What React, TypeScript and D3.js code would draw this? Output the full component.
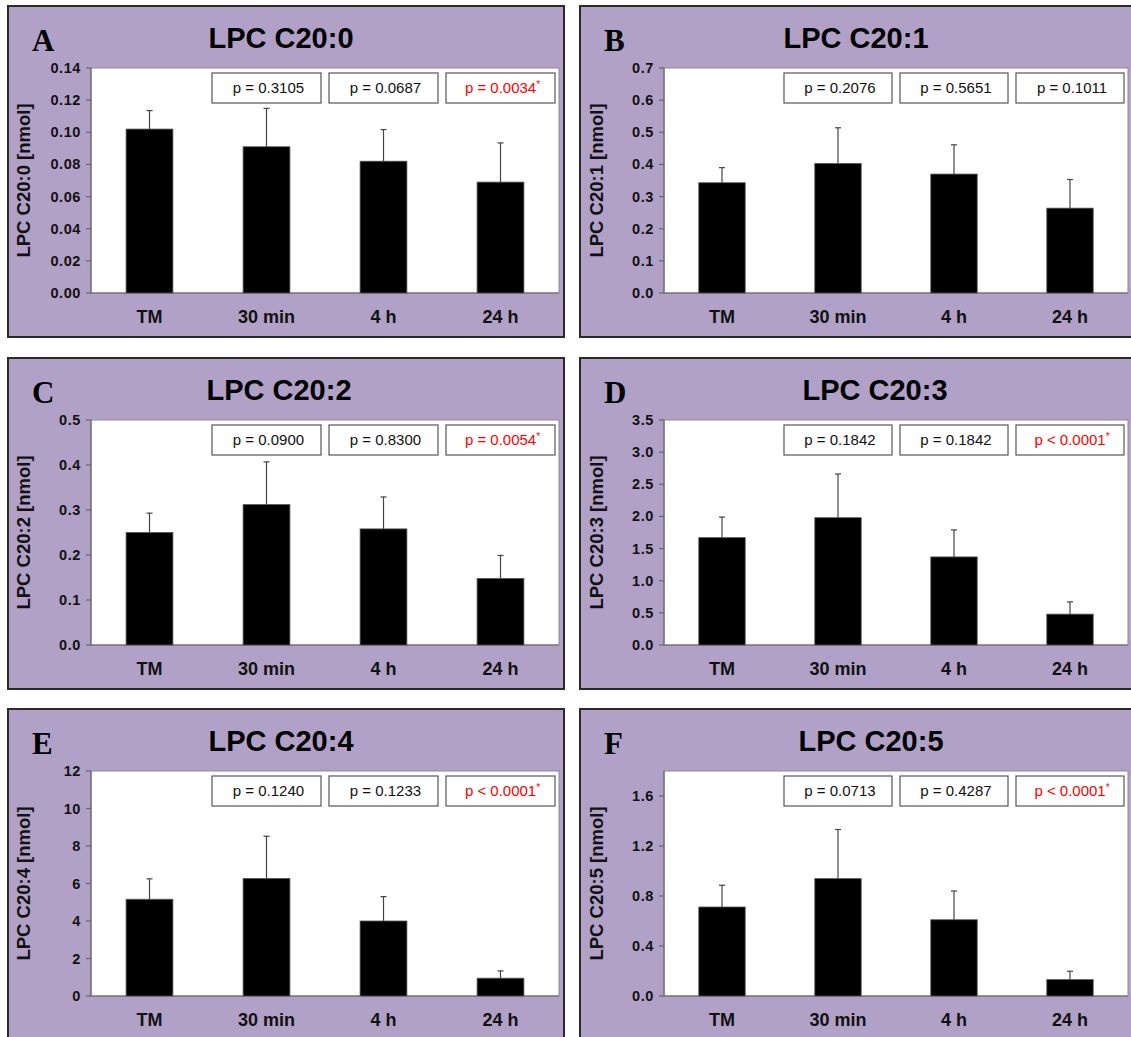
import React from "react";
import * as d3 from "d3";

const categories = ["TM", "30 min", "4 h", "24 h"];
const letters = ["A", "B", "C", "D", "E", "F"];
const titles = ["LPC C20:0", "LPC C20:1", "LPC C20:2", "LPC C20:3", "LPC C20:4", "LPC C20:5"];

const meansC200 = [0.102, 0.091, 0.082, 0.069];
const sdC200 = [0.0115, 0.0239, 0.0197, 0.0244];
const meansC201 = [0.343, 0.403, 0.37, 0.264];
const sdC201 = [0.047, 0.111, 0.091, 0.089];
const meansC202 = [0.25, 0.312, 0.258, 0.148];
const sdC202 = [0.043, 0.095, 0.071, 0.051];
const meansC203 = [1.67, 1.98, 1.37, 0.48];
const sdC203 = [0.32, 0.68, 0.42, 0.19];
const meansC204 = [5.16, 6.27, 4.0, 0.95];
const sdC204 = [1.09, 2.25, 1.3, 0.39];
const meansC205 = [0.712, 0.939, 0.61, 0.131];
const sdC205 = [0.174, 0.393, 0.23, 0.067];

const pC200 = ["p = 0.3105", "p = 0.0687", "p = 0.0034"];
const pC201 = ["p = 0.2076", "p = 0.5651", "p = 0.1011"];
const pC202 = ["p = 0.0900", "p = 0.8300", "p = 0.0054"];
const pC203 = ["p = 0.1842", "p = 0.1842", "p < 0.0001"];
const pC204 = ["p = 0.1240", "p = 0.1233", "p < 0.0001"];
const pC205 = ["p = 0.0713", "p = 0.4287", "p < 0.0001"];
const sigC200 = [false, false, true];
const sigC201 = [false, false, false];
const sigC202 = [false, false, true];
const sigC203 = [false, false, true];
const sigC204 = [false, false, true];
const sigC205 = [false, false, true];

const yMax = [0.14, 0.7, 0.5, 3.5, 12, 1.8];
const yStep = [0.02, 0.1, 0.1, 0.5, 2, 0.4];
const yDecimals = [2, 1, 1, 1, 0, 1];

const allMeans = [meansC200, meansC201, meansC202, meansC203, meansC204, meansC205];
const allSd = [sdC200, sdC201, sdC202, sdC203, sdC204, sdC205];
const allP = [pC200, pC201, pC202, pC203, pC204, pC205];
const allSig = [sigC200, sigC201, sigC202, sigC203, sigC204, sigC205];

// layout
const W = 1131;
const H = 1037;
const boxX = [8, 580];
const boxY = [6, 358, 709];
const boxW = 556;
const boxH = 331;
const titleDx = [273, 276, 271, 295, 273, 291];

const SANS = "'Liberation Sans', Arial, Helvetica, sans-serif";
const SERIF = "'Liberation Serif', 'Times New Roman', serif";
const PURPLE = "#B1A1C7";

function Panel({ idx }: { idx: number }) {
  const col = idx % 2;
  const row = Math.floor(idx / 2);
  const bx = boxX[col];
  const by = boxY[row];
  const plotLeft = col === 0 ? bx + 83 : bx + 84;
  const plotW = col === 0 ? 468 : 464;
  const plotTop = by + 62;
  const plotH = 225;
  const plotBottom = plotTop + plotH;

  const x = d3
    .scaleBand<string>()
    .domain(categories)
    .range([plotLeft, plotLeft + plotW])
    .paddingInner(0.6)
    .paddingOuter(0.3);
  const y = d3.scaleLinear().domain([0, yMax[idx]]).range([plotBottom, plotTop]);
  const ticks = d3
    .range(0, yMax[idx] + yStep[idx] * 0.01, yStep[idx])
    .filter((t) => t <= yMax[idx] + 1e-9 && !(idx === 5 && t > 1.7));
  const fmt = d3.format(`.${yDecimals[idx]}f`);
  const means = allMeans[idx];
  const sds = allSd[idx];
  const ps = allP[idx];
  const sig = allSig[idx];
  const step = x.step();
  const bw = x.bandwidth();

  return (
    <g>
      <rect x={bx} y={by} width={boxW} height={boxH} fill={PURPLE} stroke="#2a2a2a" strokeWidth={2} />
      <text x={bx + 24} y={by + 45} fontFamily={SERIF} fontWeight="bold" fontSize={31} fill="#000">
        {letters[idx]}
      </text>
      <text
        x={bx + titleDx[idx]}
        y={by + 42}
        textAnchor="middle"
        fontFamily={SANS}
        fontWeight="bold"
        fontSize={29}
        fill="#000"
      >
        {titles[idx]}
      </text>
      <rect x={plotLeft} y={plotTop} width={plotW} height={plotH} fill="#fff" stroke="#8c8c8c" strokeWidth={1} />
      <line x1={plotLeft} x2={plotLeft} y1={plotTop} y2={plotBottom} stroke="#666" strokeWidth={1.2} />
      <line x1={plotLeft} x2={plotLeft + plotW} y1={plotBottom} y2={plotBottom} stroke="#666" strokeWidth={1.2} />
      {ticks.map((t, i) => (
        <g key={i}>
          <line x1={plotLeft - 5} x2={plotLeft} y1={y(t)} y2={y(t)} stroke="#666" strokeWidth={1.2} />
          <text
            x={plotLeft - 10}
            y={y(t) + 5}
            textAnchor="end"
            fontFamily={SANS}
            fontWeight="bold"
            fontSize={14.5}
            letterSpacing={0.6}
            fill="#111"
          >
            {fmt(t)}
          </text>
        </g>
      ))}
      <text
        transform={`translate(${plotLeft - 61},${(plotTop + plotBottom) / 2}) rotate(-90)`}
        textAnchor="middle"
        fontFamily={SANS}
        fontWeight="bold"
        fontSize={18.5}
        fill="#111"
      >
        {`${titles[idx]} [nmol]`}
      </text>
      {categories.map((c, i) => {
        const x0 = x(c) as number;
        const cx = x0 + bw / 2;
        const top = y(means[i]);
        const et = y(means[i] + sds[i]);
        return (
          <g key={c}>
            <line x1={cx} x2={cx} y1={top} y2={et} stroke="#444" strokeWidth={1.2} />
            <line x1={cx - 3} x2={cx + 3} y1={et} y2={et} stroke="#444" strokeWidth={1.2} />
            <rect x={x0} y={top} width={bw} height={plotBottom - top} fill="#000" stroke="#555" strokeWidth={0.8} />
            <text
              x={cx}
              y={plotBottom + 30}
              textAnchor="middle"
              fontFamily={SANS}
              fontWeight="bold"
              fontSize={18}
              fill="#111"
            >
              {c}
            </text>
          </g>
        );
      })}
      {ps.map((p, i) => {
        const c = categories[i + 1];
        const cx = (x(c) as number) + bw / 2;
        const w = Math.min(109, step - 8);
        const bxp = cx - w / 2;
        const byp = plotTop + 5;
        return (
          <g key={i}>
            <rect x={bxp} y={byp} width={w} height={30} fill="#fff" stroke="#555" strokeWidth={1.2} />
            <text
              x={cx + 2}
              y={byp + 20}
              textAnchor="middle"
              fontFamily={SANS}
              fontSize={15}
              fill={sig[i] ? "#ff0000" : "#111"}
            >
              {p}
              {sig[i] ? (
                <tspan fontSize={10} dy={-5}>
                  *
                </tspan>
              ) : null}
            </text>
          </g>
        );
      })}
    </g>
  );
}

export default function App() {
  return (
    <svg
      width={W}
      height={H}
      viewBox={`0 0 ${W} ${H}`}
      style={{ position: "absolute", left: 0, top: 0, display: "block", background: "#fff" }}
    >
      <rect x={0} y={0} width={W} height={H} fill="#fff" />
      {letters.map((_, i) => (
        <Panel key={i} idx={i} />
      ))}
    </svg>
  );
}
